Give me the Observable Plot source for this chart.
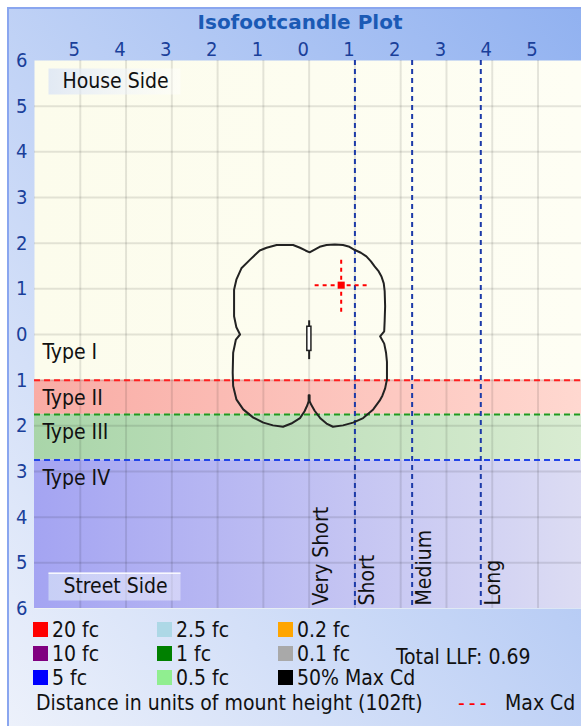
<!DOCTYPE html>
<html><head><meta charset="utf-8">
<script src="https://cdn.jsdelivr.net/npm/d3@7"></script>
<script src="https://cdn.jsdelivr.net/npm/@observablehq/plot@0.6"></script>
<style>
html,body{margin:0;padding:0;background:#fff;}
#panel{position:relative;width:581px;height:726px;overflow:hidden;font-family:"DejaVu Sans Condensed","DejaVu Sans",sans-serif;color:#111;}
#bg{position:absolute;left:7px;top:7px;width:600px;height:740px;background:linear-gradient(to bottom left,#8fb0f0,#eef2fb);border-left:2px solid #8aa6ef;border-top:2px solid #8aa6ef;}
#title{position:absolute;top:9px;left:0;width:600px;text-align:center;font-weight:bold;font-size:20px;line-height:26px;color:#1b5ab5;font-family:"DejaVu Sans",sans-serif;}
#chart{position:absolute;left:0;top:0;}
.li{position:absolute;font-size:21px;line-height:24px;white-space:nowrap;}
.sw{position:absolute;width:15px;height:15px;}
</style></head>
<body>
<div id="panel">
  <div id="bg"></div>
  <div id="title">Isofootcandle Plot</div>
  <div id="chart"></div>
  <div id="legend"></div>
</div>
<script>
// ---- data ----
const xTicks = [-5, -4, -3, -2, -1, 0, 1, 2, 3, 4, 5];
const yTicks = [-6, -5, -4, -3, -2, -1, 0, 1, 2, 3, 4, 5, 6];
const gridX = [-5, -4, -3, -2, -1, 0, 1, 2, 3, 4, 5];
const gridY = [-5, -4, -3, -2, -1, 0, 1, 2, 3, 4, 5];

const zoneNames = ["Type I", "Type II", "Type III", "Type IV"];
const zoneTop = [0, -1, -1.75, -2.75];
const zoneBottom = [-1, -1.75, -2.75, -6];

const latNames = ["Very Short", "Short", "Medium", "Long"];
const latStart = [0, 1, 2.25, 3.75];

const sideNames = ["House Side", "Street Side"];

// 50% Max Cd contour (units of mount height)
const contourX = [0.01,0.12,0.23,0.38,0.56,0.74,0.88,1.0,1.13,1.25,1.35,1.43,1.52,1.58,1.63,1.65,1.66,1.65,1.64,1.55,1.64,1.68,1.70,1.70,1.66,1.60,1.54,1.40,1.18,0.96,0.74,0.52,0.38,0.25,0.12,0.04,0.01,0.01,-0.01,-0.01,
  -0.04,-0.10,-0.20,-0.39,-0.57,-0.79,-1.0,-1.22,-1.44,-1.59,-1.66,-1.67,-1.66,-1.60,-1.51,-1.59,-1.64,-1.64,-1.59,-1.48,-1.29,-1.08,-0.93,-0.71,-0.35,-0.20,-0.08];
const contourY = [1.80,1.86,1.92,1.96,1.97,1.96,1.92,1.85,1.79,1.71,1.60,1.49,1.38,1.27,1.12,0.95,0.62,0.30,0.07,-0.04,-0.20,-0.40,-0.60,-0.98,-1.18,-1.34,-1.45,-1.64,-1.83,-1.93,-1.99,-2.02,-1.95,-1.84,-1.67,-1.53,-1.46,-1.33,-1.33,-1.46,
  -1.55,-1.68,-1.83,-1.95,-2.02,-1.99,-1.93,-1.82,-1.64,-1.42,-1.13,-0.84,-0.40,-0.11,0.0,0.16,0.40,0.98,1.2,1.45,1.64,1.84,1.90,1.96,1.96,1.90,1.84];

const luminaire = {x1: -0.04, x2: 0.05, y1: -0.36, y2: 0.17, stemTop: 0.30, stemBottom: -0.55};
const maxCd = {x: 0.70, y: 1.08, reach: 0.58};

const legendLabels = ["20 fc", "10 fc", "5 fc", "2.5 fc", "1 fc", "0.5 fc", "0.2 fc", "0.1 fc", "50% Max Cd"];
const legendColors = ["#ff0000", "#800080", "#0000ff", "#add8e6", "#008000", "#90ee90", "#ffa500", "#a9a9a9", "#000000"];
const totalLLF = 0.69;
const mountHeightFt = 102;

// ---- build ----
const zones = zoneNames.map((n, i) => ({name: n, top: zoneTop[i], bottom: zoneBottom[i], i}));
const zoneFills = ["url(#gY)", "url(#gR)", "url(#gG)", "url(#gB)"];
const zoneLineColors = ["#ff2020", "#1f9a1f", "#2244e8"];
const lats = latNames.map((n, i) => ({name: n, x: latStart[i]}));
const contour = contourX.map((x, i) => ({x, y: contourY[i]}));
const FONT = '"DejaVu Sans Condensed","DejaVu Sans",sans-serif';
const FS = 21;

const plot = Plot.plot({
  width: 581, height: 620,
  marginLeft: 34, marginRight: 0, marginTop: 60, marginBottom: 12,
  x: {domain: [-6, 5.95], axis: null},
  y: {domain: [-6, 6], axis: null},
  style: {background: "transparent", fontFamily: FONT, overflow: "visible"},
  marks: [
    Plot.frame({fill: "url(#gY)"}),
    Plot.rect(zones.slice(1), {y1: "top", y2: "bottom", fill: (d) => zoneFills[d.i]}),
    Plot.ruleX(gridX, {stroke: "#000", strokeOpacity: 0.1, strokeWidth: 2}),
    Plot.ruleY(gridY, {stroke: "#000", strokeOpacity: 0.1, strokeWidth: 2}),
    Plot.ruleY(zones.slice(1), {y: "top", stroke: (d) => zoneLineColors[d.i - 1], strokeWidth: 2, strokeDasharray: "6,4"}),
    Plot.ruleX(lats.slice(1), {x: "x", stroke: "#1c3aa8", strokeWidth: 2, strokeDasharray: "5,4"}),
    // side boxes
    Plot.frame({fill: "url(#gBox)", stroke: "none", insetLeft: 14, insetRight: 401, insetTop: 8, insetBottom: 514}),
    Plot.frame({fill: "url(#gBox)", stroke: "none", insetLeft: 14, insetRight: 401, insetTop: 512, insetBottom: 8}),
    Plot.frame({fill: "#ffffff", fillOpacity: 0.85, stroke: "none", insetLeft: 14, insetRight: 401, insetTop: 512, insetBottom: 34.5}),
    Plot.text([sideNames[0]], {text: (d) => d, frameAnchor: "top-left", dx: 81, dy: 21, textAnchor: "middle", lineAnchor: "middle", fontSize: FS, fill: "#111"}),
    Plot.text([sideNames[1]], {text: (d) => d, frameAnchor: "bottom-left", dx: 81, dy: -22, textAnchor: "middle", lineAnchor: "middle", fontSize: FS, fill: "#111"}),
    // zone labels
    Plot.text(zones, {y: "top", text: "name", frameAnchor: "left", dx: 8, dy: 18, textAnchor: "start", lineAnchor: "middle", fontSize: FS, fill: "#111"}),
    // lateral labels
    Plot.text(lats, {x: "x", text: "name", frameAnchor: "bottom", rotate: -90, textAnchor: "start", lineAnchor: "middle", dx: 12, dy: -3, fontSize: FS, fill: "#111"}),
    // contour
    Plot.line(contour, {x: "x", y: "y", curve: "linear-closed", stroke: "#222", strokeWidth: 2}),
    Plot.ruleX([luminaire], {x: 0, y1: "stemBottom", y2: "stemTop", stroke: "#222", strokeWidth: 2}),
    Plot.rect([luminaire], {x1: "x1", x2: "x2", y1: "y1", y2: "y2", fill: "#fff", stroke: "#222", strokeWidth: 1.5}),
    // max cd
    Plot.link([maxCd], {x1: (d) => d.x - d.reach, x2: (d) => d.x + d.reach, y1: "y", y2: "y", stroke: "#ff0000", strokeWidth: 2, strokeDasharray: "4,4"}),
    Plot.link([maxCd], {x1: "x", x2: "x", y1: (d) => d.y - d.reach, y2: (d) => d.y + d.reach, stroke: "#ff0000", strokeWidth: 2, strokeDasharray: "4,4"}),
    Plot.dot([maxCd], {x: "x", y: "y", symbol: "square", r: 4, fill: "#ff0000", stroke: "none"}),
    // axes
    Plot.axisX(xTicks, {anchor: "top", tickSize: 0, tickPadding: 5, dx: -6, tickFormat: (d) => Math.abs(d), fill: "#1a3f9a", fontSize: 20}),
    Plot.axisY(yTicks, {anchor: "left", tickSize: 0, tickPadding: 7, tickFormat: (d) => Math.abs(d), fill: "#1a3f9a", fontSize: 20})
  ]
});

// gradients
const defs = d3.select(plot).insert("defs", ":first-child");
function grad(id, c0, c1) {
  const g = defs.append("linearGradient").attr("id", id)
    .attr("x1", 0).attr("y1", 0).attr("x2", 1).attr("y2", 0);
  g.append("stop").attr("offset", 0).attr("stop-color", c0[0]).attr("stop-opacity", c0[1]);
  g.append("stop").attr("offset", 1).attr("stop-color", c1[0]).attr("stop-opacity", c1[1]);
}
grad("gY", ["#fcfcec", 1], ["#fefef4", 1]);
grad("gR", ["#f9aca5", 1], ["#ffd8d0", 1]);
grad("gG", ["#a9d5a9", 1], ["#d9ecd2", 1]);
grad("gB", ["#a4a4f2", 1], ["#dcdcf3", 1]);
grad("gBox", ["#d6e1f7", 0.7], ["#ffffff", 0.4]);

document.getElementById("chart").appendChild(plot);

// legend
const leg = document.getElementById("legend");
const colX = [33, 157, 278];
const rowY = [630, 654, 678];
legendLabels.forEach((lab, i) => {
  const c = Math.floor(i / 3), r = i % 3;
  const sw = document.createElement("div");
  sw.className = "sw";
  sw.style.left = colX[c] + "px"; sw.style.top = (rowY[r] - 8) + "px";
  sw.style.background = legendColors[i];
  leg.appendChild(sw);
  const t = document.createElement("div");
  t.className = "li";
  t.style.left = (colX[c] + 19) + "px"; t.style.top = (rowY[r] - 12) + "px";
  t.textContent = lab;
  leg.appendChild(t);
});
function addText(txt, x, yc, color, ls) {
  const t = document.createElement("div");
  t.className = "li"; t.style.left = x + "px"; t.style.top = (yc - 12) + "px";
  if (color) t.style.color = color;
  if (ls) t.style.letterSpacing = ls;
  t.textContent = txt; leg.appendChild(t);
}
addText("Total LLF: " + totalLLF.toFixed(2), 396, 657);
addText("Distance in units of mount height (" + mountHeightFt + "ft)", 36, 703);
addText("---", 458, 703, "#ff0000", "4px");
addText("Max Cd", 505, 703);
</script>
</body></html>
